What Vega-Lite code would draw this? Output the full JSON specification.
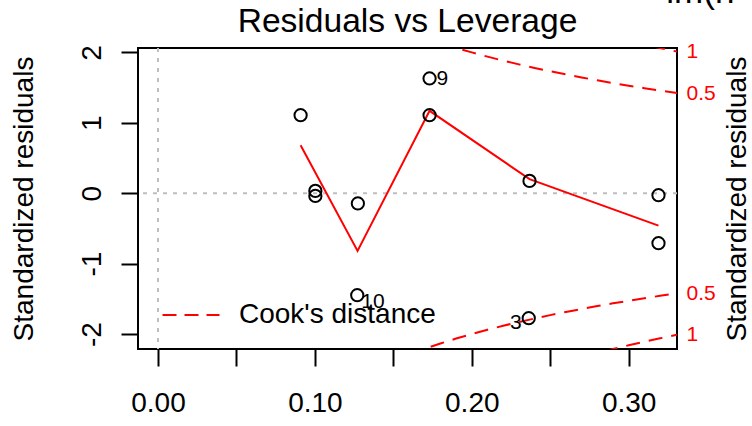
{
  "$schema": "https://vega.github.io/schema/vega-lite/v6.json",
  "autosize": {"type": "none"},
  "width": 539,
  "height": 301,
  "padding": {"left": 138, "top": 48, "right": 75, "bottom": 77},
  "background": "white",
  "title": {"text": "Residuals vs Leverage", "fontSize": 33.6, "fontWeight": "normal", "font": "Liberation Sans", "color": "black", "anchor": "middle", "frame": "group", "baseline": "alphabetic", "offset": -90},
  "datasets": {
    "pts": [
      {"x": 0.0909, "y": 1.108},
      {"x": 0.1003, "y": 0.033},
      {"x": 0.1003, "y": -0.038},
      {"x": 0.1274, "y": -0.146},
      {"x": 0.1270, "y": -1.449},
      {"x": 0.1731, "y": 1.630},
      {"x": 0.1731, "y": 1.108},
      {"x": 0.2368, "y": 0.175},
      {"x": 0.2363, "y": -1.776},
      {"x": 0.3190, "y": -0.028},
      {"x": 0.3190, "y": -0.710}
    ],
    "smooth": [
      {"x": 0.0909, "y": 0.68},
      {"x": 0.1272, "y": -0.82},
      {"x": 0.1731, "y": 1.17},
      {"x": 0.2368, "y": 0.20},
      {"x": 0.3190, "y": -0.46}
    ],
    "cook": [
      {"curve": "u05", "x": 0.18, "y": 2.1344, "legend": "Cook's distance"},
      {"curve": "u05", "x": 0.19, "y": 2.0648, "legend": "Cook's distance"},
      {"curve": "u05", "x": 0.20, "y": 2.0, "legend": "Cook's distance"},
      {"curve": "u05", "x": 0.21, "y": 1.9396, "legend": "Cook's distance"},
      {"curve": "u05", "x": 0.22, "y": 1.8829, "legend": "Cook's distance"},
      {"curve": "u05", "x": 0.23, "y": 1.8297, "legend": "Cook's distance"},
      {"curve": "u05", "x": 0.24, "y": 1.7795, "legend": "Cook's distance"},
      {"curve": "u05", "x": 0.25, "y": 1.7321, "legend": "Cook's distance"},
      {"curve": "u05", "x": 0.26, "y": 1.6871, "legend": "Cook's distance"},
      {"curve": "u05", "x": 0.27, "y": 1.6443, "legend": "Cook's distance"},
      {"curve": "u05", "x": 0.28, "y": 1.6036, "legend": "Cook's distance"},
      {"curve": "u05", "x": 0.29, "y": 1.5647, "legend": "Cook's distance"},
      {"curve": "u05", "x": 0.30, "y": 1.5275, "legend": "Cook's distance"},
      {"curve": "u05", "x": 0.31, "y": 1.4919, "legend": "Cook's distance"},
      {"curve": "u05", "x": 0.32, "y": 1.4577, "legend": "Cook's distance"},
      {"curve": "u05", "x": 0.3308, "y": 1.4223, "legend": "Cook's distance"},
      {"curve": "l05", "x": 0.16, "y": -2.2913, "legend": "Cook's distance"},
      {"curve": "l05", "x": 0.17, "y": -2.2096, "legend": "Cook's distance"},
      {"curve": "l05", "x": 0.18, "y": -2.1344, "legend": "Cook's distance"},
      {"curve": "l05", "x": 0.19, "y": -2.0648, "legend": "Cook's distance"},
      {"curve": "l05", "x": 0.20, "y": -2.0, "legend": "Cook's distance"},
      {"curve": "l05", "x": 0.21, "y": -1.9396, "legend": "Cook's distance"},
      {"curve": "l05", "x": 0.22, "y": -1.8829, "legend": "Cook's distance"},
      {"curve": "l05", "x": 0.23, "y": -1.8297, "legend": "Cook's distance"},
      {"curve": "l05", "x": 0.24, "y": -1.7795, "legend": "Cook's distance"},
      {"curve": "l05", "x": 0.25, "y": -1.7321, "legend": "Cook's distance"},
      {"curve": "l05", "x": 0.26, "y": -1.6871, "legend": "Cook's distance"},
      {"curve": "l05", "x": 0.27, "y": -1.6443, "legend": "Cook's distance"},
      {"curve": "l05", "x": 0.28, "y": -1.6036, "legend": "Cook's distance"},
      {"curve": "l05", "x": 0.29, "y": -1.5647, "legend": "Cook's distance"},
      {"curve": "l05", "x": 0.30, "y": -1.5275, "legend": "Cook's distance"},
      {"curve": "l05", "x": 0.31, "y": -1.4919, "legend": "Cook's distance"},
      {"curve": "l05", "x": 0.32, "y": -1.4577, "legend": "Cook's distance"},
      {"curve": "l05", "x": 0.3308, "y": -1.4223, "legend": "Cook's distance"},
      {"curve": "u1", "x": 0.30, "y": 2.1602, "legend": "Cook's distance"},
      {"curve": "u1", "x": 0.31, "y": 2.1099, "legend": "Cook's distance"},
      {"curve": "u1", "x": 0.32, "y": 2.0616, "legend": "Cook's distance"},
      {"curve": "u1", "x": 0.3308, "y": 2.0115, "legend": "Cook's distance"},
      {"curve": "l1", "x": 0.27, "y": -2.3254, "legend": "Cook's distance"},
      {"curve": "l1", "x": 0.28, "y": -2.2678, "legend": "Cook's distance"},
      {"curve": "l1", "x": 0.29, "y": -2.2128, "legend": "Cook's distance"},
      {"curve": "l1", "x": 0.30, "y": -2.1602, "legend": "Cook's distance"},
      {"curve": "l1", "x": 0.31, "y": -2.1099, "legend": "Cook's distance"},
      {"curve": "l1", "x": 0.32, "y": -2.0616, "legend": "Cook's distance"},
      {"curve": "l1", "x": 0.3308, "y": -2.0115, "legend": "Cook's distance"}
    ],
    "ids": [
      {"x": 0.1731, "y": 1.630, "id": "9"},
      {"x": 0.1270, "y": -1.449, "id": "10"},
      {"x": 0.2363, "y": -1.776, "id": "3"}
    ],
    "caption": [
      {"x": 0.324, "y": 2.70, "text": "lm(h"}
    ]
  },
  "resolve": {"axis": {"x": "independent", "y": "independent"}},
  "layer": [
    {
      "data": {"values": [{"ref": 0}]},
      "mark": {"type": "rule", "color": "#BEBEBE", "strokeWidth": 2, "strokeDash": [4, 6]},
      "encoding": {
        "y": {"datum": 0, "type": "quantitative", "scale": {"domain": [-2.213, 2.0625], "nice": false, "zero": false}, "axis": null}
      }
    },
    {
      "data": {"values": [{"ref": 0}]},
      "mark": {"type": "rule", "color": "#BEBEBE", "strokeWidth": 2, "strokeDash": [4, 6]},
      "encoding": {
        "x": {"datum": 0, "type": "quantitative", "scale": {"domain": [-0.01274, 0.3308], "nice": false, "zero": false}, "axis": null}
      }
    },
    {
      "data": {"name": "cook"},
      "mark": {"type": "line", "strokeWidth": 2, "strokeDash": [14, 9], "clip": true},
      "encoding": {
        "x": {"field": "x", "type": "quantitative", "scale": {"domain": [-0.01274, 0.3308], "nice": false, "zero": false}, "axis": null},
        "y": {"field": "y", "type": "quantitative", "scale": {"domain": [-2.213, 2.0625], "nice": false, "zero": false},
          "axis": {"orient": "right", "values": [2.0115, 1.4223, -1.4223, -2.0115], "labelExpr": "abs(datum.value) > 1.7 ? '1' : '0.5'", "labelColor": "red", "labelFontSize": 21, "labelFont": "Liberation Sans", "ticks": false, "tickSize": 0, "domain": false, "grid": false, "labelPadding": 9, "labelAlign": "left", "labelBaseline": "middle", "labelOverlap": false, "labelFlush": false, "title": "Standardized residuals", "titleAngle": 270, "titleBaseline": "top", "titleFontSize": 28, "titleFontWeight": "normal", "titleFont": "Liberation Sans", "titleColor": "black", "titlePadding": 8}},
        "detail": {"field": "curve"},
        "stroke": {"field": "legend", "type": "nominal", "scale": {"domain": ["Cook's distance"], "range": ["red"]},
          "legend": {"orient": "bottom-left", "title": null, "offset": 20, "padding": 0, "labelFontSize": 28, "labelFont": "Liberation Sans", "labelColor": "black", "labelLimit": 500, "symbolType": "M-1,0H5", "symbolSize": 361, "symbolDash": [14, 8], "symbolStrokeWidth": 2, "labelOffset": 53}}
      }
    },
    {
      "data": {"name": "smooth"},
      "mark": {"type": "line", "color": "red", "strokeWidth": 2},
      "encoding": {
        "x": {"field": "x", "type": "quantitative", "scale": {"domain": [-0.01274, 0.3308], "nice": false, "zero": false}, "axis": null},
        "y": {"field": "y", "type": "quantitative", "scale": {"domain": [-2.213, 2.0625], "nice": false, "zero": false}, "axis": null}
      }
    },
    {
      "data": {"name": "pts"},
      "mark": {"type": "point", "shape": "circle", "filled": false, "size": 150, "strokeWidth": 2, "color": "black", "opacity": 1},
      "encoding": {
        "x": {"field": "x", "type": "quantitative", "scale": {"domain": [-0.01274, 0.3308], "nice": false, "zero": false},
          "axis": {"orient": "bottom", "values": [0, 0.05, 0.1, 0.15, 0.2, 0.25, 0.3], "labelExpr": "round(datum.value*100) % 10 == 0 ? format(datum.value, '.2f') : ''", "title": null, "grid": false, "domain": false, "tickSize": 17, "tickWidth": 2, "tickColor": "black", "labelFontSize": 28, "labelFont": "Liberation Sans", "labelColor": "black", "labelPadding": 23, "labelFlush": false, "labelOverlap": false}},
        "y": {"field": "y", "type": "quantitative", "scale": {"domain": [-2.213, 2.0625], "nice": false, "zero": false},
          "axis": {"orient": "left", "values": [-2, -1, 0, 1, 2], "labelExpr": "'' + datum.value", "labelAngle": 270, "labelAlign": "center", "labelBaseline": "alphabetic", "labelPadding": 21, "tickSize": 17, "tickWidth": 2, "tickColor": "black", "domain": false, "grid": false, "labelFontSize": 28, "labelFont": "Liberation Sans", "labelColor": "black", "labelOverlap": false, "labelFlush": false, "title": "Standardized residuals", "titleFontSize": 28, "titleFontWeight": "normal", "titleFont": "Liberation Sans", "titleColor": "black", "titlePadding": 40}}
      }
    },
    {
      "data": {"name": "ids"},
      "transform": [{"filter": "datum.id == '9'"}],
      "mark": {"type": "text", "align": "left", "baseline": "middle", "dx": 7, "dy": 1, "fontSize": 21, "font": "Liberation Sans", "color": "black"},
      "encoding": {
        "x": {"field": "x", "type": "quantitative", "scale": {"domain": [-0.01274, 0.3308], "nice": false, "zero": false}, "axis": null},
        "y": {"field": "y", "type": "quantitative", "scale": {"domain": [-2.213, 2.0625], "nice": false, "zero": false}, "axis": null},
        "text": {"field": "id"}
      }
    },
    {
      "data": {"name": "ids"},
      "transform": [{"filter": "datum.id == '10'"}],
      "mark": {"type": "text", "align": "left", "baseline": "middle", "dx": 4, "dy": 7, "fontSize": 21, "font": "Liberation Sans", "color": "black"},
      "encoding": {
        "x": {"field": "x", "type": "quantitative", "scale": {"domain": [-0.01274, 0.3308], "nice": false, "zero": false}, "axis": null},
        "y": {"field": "y", "type": "quantitative", "scale": {"domain": [-2.213, 2.0625], "nice": false, "zero": false}, "axis": null},
        "text": {"field": "id"}
      }
    },
    {
      "data": {"name": "ids"},
      "transform": [{"filter": "datum.id == '3'"}],
      "mark": {"type": "text", "align": "right", "baseline": "middle", "dx": -7, "dy": 5, "fontSize": 21, "font": "Liberation Sans", "color": "black"},
      "encoding": {
        "x": {"field": "x", "type": "quantitative", "scale": {"domain": [-0.01274, 0.3308], "nice": false, "zero": false}, "axis": null},
        "y": {"field": "y", "type": "quantitative", "scale": {"domain": [-2.213, 2.0625], "nice": false, "zero": false}, "axis": null},
        "text": {"field": "id"}
      }
    },
    {
      "data": {"name": "caption"},
      "mark": {"type": "text", "align": "left", "baseline": "alphabetic", "fontSize": 35, "font": "Liberation Sans", "color": "black"},
      "encoding": {
        "x": {"field": "x", "type": "quantitative", "scale": {"domain": [-0.01274, 0.3308], "nice": false, "zero": false}, "axis": null},
        "y": {"field": "y", "type": "quantitative", "scale": {"domain": [-2.213, 2.0625], "nice": false, "zero": false}, "axis": null},
        "text": {"field": "text"}
      }
    }
  ],
  "config": {
    "view": {"stroke": "black", "strokeWidth": 2},
    "font": "Liberation Sans"
  }
}
